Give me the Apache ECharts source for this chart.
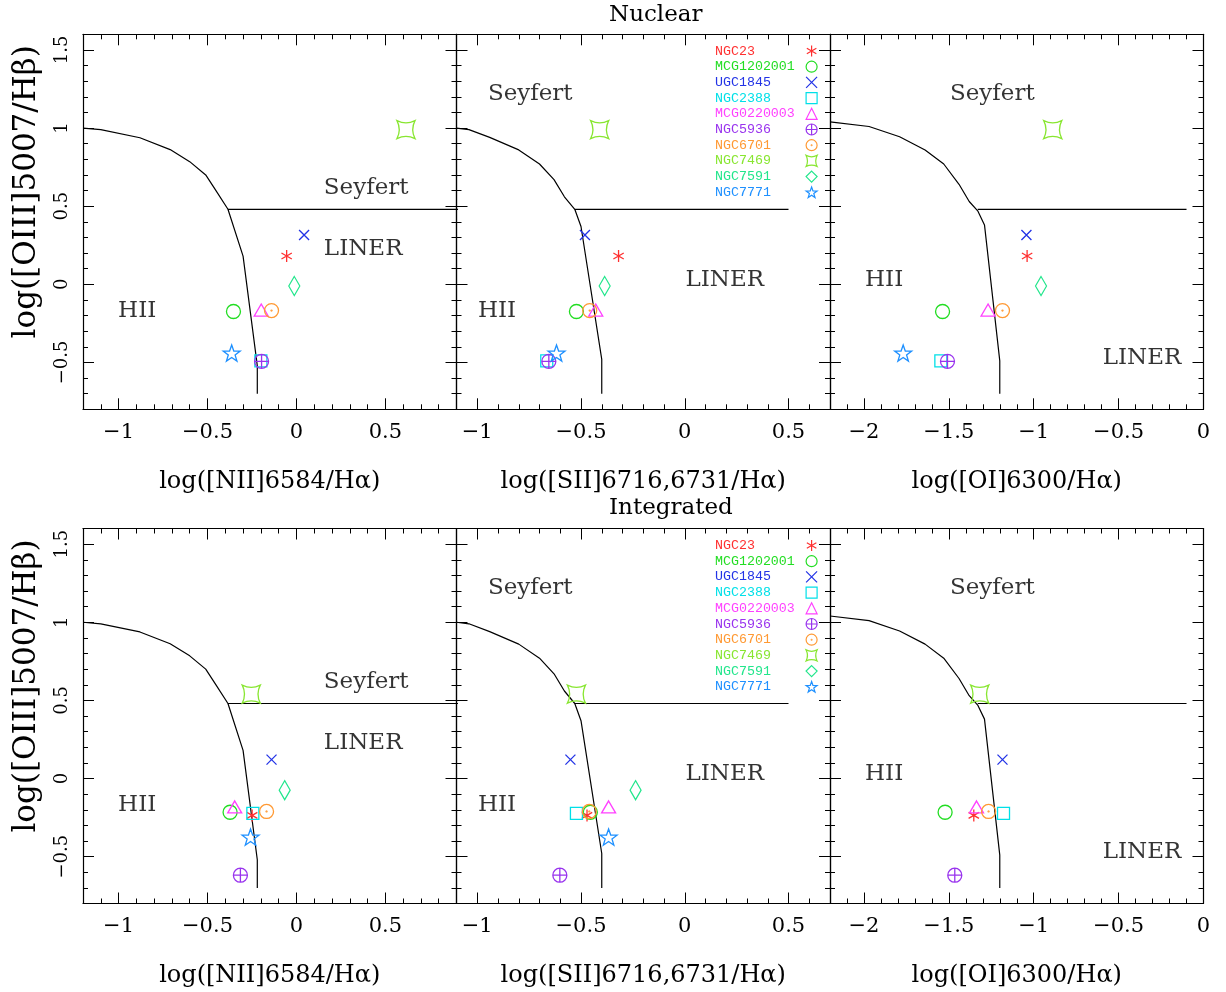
<!DOCTYPE html>
<html><head><meta charset="utf-8">
<script src="https://cdn.jsdelivr.net/npm/echarts@6/dist/echarts.min.js"></script>
<style>html,body{margin:0;padding:0;background:#fff}#c{width:1226px;height:992px}</style>
</head><body><div id="c"></div>
<script>
// ---------------- data ----------------
const galaxies = ['NGC23','MCG1202001','UGC1845','NGC2388','MCG0220003','NGC5936','NGC6701','NGC7469','NGC7591','NGC7771'];
const galaxyColors = ['#ff3030','#22dd22','#2233e6','#00e0e8','#ff40ff','#9933ee','#ff9933','#88e630','#22e68c','#1e90ff'];

// Nuclear: log([OIII]/Hb) and the three x-ratios
const nucOIII = [0.181,-0.174,0.315,-0.490,-0.165,-0.493,-0.168,0.990,-0.011,-0.440];
const nucNII  = [-0.055,-0.354,0.043,-0.200,-0.198,-0.196,-0.140,0.616,-0.012,-0.364];
const nucSII  = [-0.319,-0.522,-0.481,-0.665,-0.429,-0.655,-0.458,-0.410,-0.386,-0.618];
const nucOI   = [-1.039,-1.537,-1.043,-1.547,-1.269,-1.508,-1.184,-0.888,-0.957,-1.769];

// Integrated
const intOIII = [-0.236,-0.216,0.121,-0.223,-0.182,-0.619,-0.211,0.540,-0.075,-0.375];
const intNII  = [-0.249,-0.373,-0.140,-0.245,-0.347,-0.315,-0.168,-0.254,-0.066,-0.258];
const intSII  = [-0.471,-0.455,-0.551,-0.522,-0.367,-0.602,-0.460,-0.522,-0.237,-0.367];
const intOI   = [-1.353,-1.522,-1.184,-1.178,-1.337,-1.465,-1.266,-1.318,null,null];

// Diagnostic boundary curves (HII / AGN) and Seyfert-LINER lines
const curveNII = [[-1.2,1.0],[-1.10,0.99],[-0.88,0.938],[-0.71,0.862],[-0.60,0.785],[-0.51,0.70],[-0.456,0.606],[-0.385,0.48],[-0.30,0.18],[-0.22,-0.52],[-0.22,-0.70]];
const curveSII = [[-1.1,1.0],[-1.04,0.99],[-0.94,0.94],[-0.80,0.86],[-0.70,0.77],[-0.63,0.67],[-0.58,0.56],[-0.53,0.48],[-0.50,0.37],[-0.40,-0.48],[-0.40,-0.70]];
const curveOI  = [[-2.2,1.04],[-1.97,1.01],[-1.79,0.944],[-1.64,0.86],[-1.53,0.77],[-1.44,0.64],[-1.38,0.53],[-1.33,0.47],[-1.29,0.38],[-1.20,-0.49],[-1.20,-0.70]];
const seyLinerNII = [[-0.385,0.48],[1.0,0.48]];
const seyLinerSII = [[-0.53,0.48],[0.5,0.48]];
const seyLinerOI  = [[-1.33,0.48],[-0.1,0.48]];

// Region labels (text, anchored at left edge in data coordinates)
const regionText = ['Seyfert','LINER','HII'];
const annNII = [[0.154,0.619],[0.154,0.224],[-1.003,-0.172]];
const annSII = [[-0.949,1.22],[0.003,0.026],[-0.997,-0.172]];
const annOI  = [[-1.494,1.22],[-0.594,-0.472],[-1.994,0.026]];

const xNames = ['log([NII]6584/H\u03b1)','log([SII]6716,6731/H\u03b1)','log([OI]6300/H\u03b1)'];
const yName = 'log([OIII]5007/H\u03b2)';
const xRanges = [[-1.2,0.9],[-1.1,0.7],[-2.2,0]];
const yRange = [-0.8,1.6];
const rowTitles = ['Nuclear','Integrated'];

// ---------------- symbols ----------------
function starPath(){
  let d='';
  for(let k=0;k<10;k++){
    const r = k%2 ? 4 : 10;
    const a = -Math.PI/2 + k*Math.PI/5;
    d += (k?'L':'M') + (r*Math.cos(a)).toFixed(2) + ',' + (r*Math.sin(a)).toFixed(2);
  }
  return 'path://' + d + 'Z';
}
const symbols = [
  'path://M0,-10L0,10M-8.66,-5L8.66,5M-8.66,5L8.66,-5',
  'circle',
  'path://M-10,-10L10,10M-10,10L10,-10',
  'rect',
  'triangle',
  'path://M-10,0A10,10 0 1,1 10,0A10,10 0 1,1 -10,0ZM-10,0L10,0M0,-10L0,10',
  'path://M-10,0A10,10 0 1,1 10,0A10,10 0 1,1 -10,0ZM-0.7,0A0.7,0.7 0 1,1 0.7,0A0.7,0.7 0 1,1 -0.7,0Z',
  'path://M-10,-10Q0,-5 10,-10Q5,0 10,10Q0,5 -10,10Q-5,0 -10,-10Z',
  'diamond',
  starPath()
];
const symbolSizes = [12,14,10,12,[14,12],14,14,18,[11,19],17];

// ---------------- layout ----------------
const colLeft = [83,456.5,830];
const colWidth = 373.5;
const rowTop = [34.3,528.5];
const rowHeight = 375;
const serif = 'DejaVu Serif';

const grids=[], xAxes=[], yAxes=[], series=[];
const panelX = [[nucNII,nucSII,nucOI],[intNII,intSII,intOI]];
const panelY = [nucOIII,intOIII];
const curves = [curveNII,curveSII,curveOI];
const seyLines = [seyLinerNII,seyLinerSII,seyLinerOI];
const anns = [annNII,annSII,annOI];

function fmt(v){ return v<0 ? '\u2212'+String(Math.abs(v)) : String(v); }

for(let r=0;r<2;r++){
  for(let c=0;c<3;c++){
    const g = r*3+c;
    grids.push({left:colLeft[c], top:rowTop[r], width:colWidth, height:rowHeight, show:false});
    const tick = {show:true, inside:true, length:11, lineStyle:{color:'#000', width:1}};
    const minor = {show:true, splitNumber:5, length:5, lineStyle:{color:'#000', width:1}};
    const line = {show:true, onZero:false, lineStyle:{color:'#000', width:1.2}};
    xAxes.push({
      gridIndex:g, type:'value', position:'bottom', min:xRanges[c][0], max:xRanges[c][1], splitNumber:4,
      axisLine:line, axisTick:tick, minorTick:minor, splitLine:{show:false},
      axisLabel:{show:true, showMinLabel:false, showMaxLabel:(c===2), formatter:fmt, color:'#000', fontFamily:serif, fontSize:21, margin:13, hideOverlap:false},
      name:xNames[c], nameLocation:'middle', nameGap:60,
      nameTextStyle:{color:'#000', fontFamily:serif, fontSize:24}
    });
    xAxes.push({
      gridIndex:g, type:'value', position:'top', min:xRanges[c][0], max:xRanges[c][1], splitNumber:4,
      axisLine:line, axisTick:tick, minorTick:minor, splitLine:{show:false}, axisLabel:{show:false}
    });
    yAxes.push({
      gridIndex:g, type:'value', position:'left', min:yRange[0], max:yRange[1], splitNumber:5,
      axisLine:line, axisTick:tick, minorTick:minor, splitLine:{show:false},
      axisLabel:{show:(c===0), showMinLabel:false, showMaxLabel:false, rotate:90, formatter:fmt, color:'#000', fontFamily:serif, fontSize:18, margin:12, hideOverlap:false},
      name:(c===0 ? yName : ''), nameLocation:'middle', nameGap:41, nameRotate:90,
      nameTextStyle:{color:'#000', fontFamily:serif, fontSize:31, padding:[0,0,0,60]}
    });
    yAxes.push({
      gridIndex:g, type:'value', position:'right', min:yRange[0], max:yRange[1], splitNumber:5,
      axisLine:line, axisTick:tick, minorTick:minor, splitLine:{show:false}, axisLabel:{show:false}
    });

    const xi = 2*g, yi = 2*g;
    // boundary curve
    series.push({type:'line', xAxisIndex:xi, yAxisIndex:yi, data:curves[c], showSymbol:false, symbol:'none',
      lineStyle:{color:'#000', width:1.2}, silent:true, z:1, animation:false, clip:true});
    series.push({type:'line', xAxisIndex:xi, yAxisIndex:yi, data:seyLines[c], showSymbol:false, symbol:'none',
      lineStyle:{color:'#000', width:1.2}, silent:true, z:1, animation:false, clip:true});
    // region labels
    series.push({type:'scatter', xAxisIndex:xi, yAxisIndex:yi, silent:true, animation:false, symbolSize:0.1,
      itemStyle:{color:'rgba(0,0,0,0)'},
      data: anns[c].map((p,k)=>[p[0],p[1],regionText[k]]),
      label:{show:true, position:'right', distance:0, formatter:p=>p.data[2], color:'#000', fontFamily:serif, fontSize:23}
    });
    // galaxies
    const xs = panelX[r][c], ys = panelY[r];
    galaxies.forEach((name,i)=>{
      const data = (xs[i]===null) ? [] : [[xs[i], ys[i]]];
      series.push({type:'scatter', name:name, xAxisIndex:xi, yAxisIndex:yi, data:data, silent:true, animation:false,
        symbol:symbols[i], symbolSize:symbolSizes[i], symbolKeepAspect:true, z:3,
        itemStyle:{color:'rgba(0,0,0,0)', borderColor:galaxyColors[i], borderWidth:1.3, opacity:1},
        emphasis:{disabled:true}});
    });
  }
}

const legendFont = {fontFamily:'Liberation Mono', fontSize:13.3, lineHeight:12};
// text column of the key
function legendText(top){
  return {show:true, orient:'vertical', left:710, top:top, padding:0, align:'left', icon:'none',
    itemWidth:0, itemHeight:11, itemGap:2.7, selectedMode:false,
    data: galaxies.map((n,i)=>({name:n, icon:'none', textStyle:{color:galaxyColors[i]}})),
    textStyle:legendFont};
}
// symbol column of the key
function legendIcons(top){
  return {show:true, orient:'vertical', left:805.5, top:top, padding:0, align:'left',
    itemWidth:11, itemHeight:11, itemGap:2.7, selectedMode:false, formatter:()=>' ',
    data: galaxies.map((n,i)=>({name:n, icon:symbols[i],
      itemStyle:{color:'rgba(0,0,0,0)', borderColor:galaxyColors[i], borderWidth:1.2}})),
    textStyle:legendFont};
}

const option = {
  backgroundColor:'#fff',
  animation:false,
  title: rowTitles.map((t,k)=>({text:t, left:609, top:(k===0?4:497), padding:0,
    textStyle:{fontFamily:serif, fontSize:23, fontWeight:'normal', color:'#000'}})),
  legend:[legendText(44.5), legendIcons(44.5), legendText(539), legendIcons(539)],
  grid:grids, xAxis:xAxes, yAxis:yAxes, series:series
};
const chart = echarts.init(document.getElementById('c'), null, {renderer:'canvas'});
chart.setOption(option);
</script></body></html>
